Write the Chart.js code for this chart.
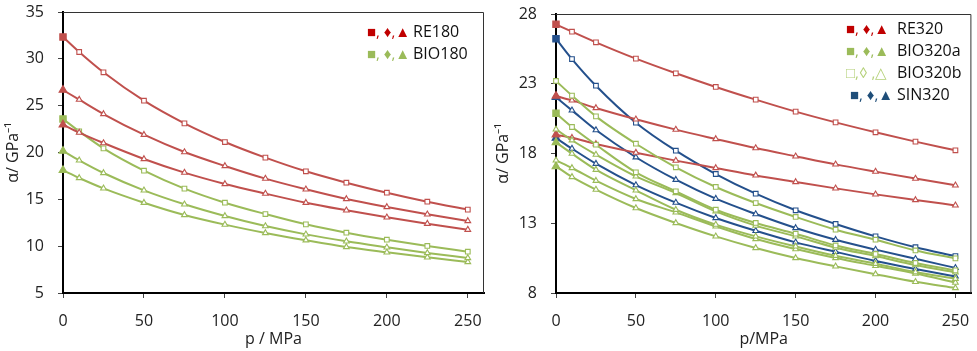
<!DOCTYPE html>
<html>
<head>
<meta charset="utf-8">
<script src="https://cdn.jsdelivr.net/npm/chart.js@4"></script>
<style>
  body { margin: 0; background: #fff; font-family: 'Open Sans', sans-serif; }
  #wrap { position: relative; width: 977px; height: 351px; }
  .pane { position: absolute; top: 0; height: 351px; }
  .leg { position: absolute; font-size: 16px; color: #111; line-height: 22px; }
  .row { position: relative; height: 22px; white-space: nowrap; }
  .sym { position: absolute; left: 0; font-size: 15px; letter-spacing: 0px; }
  .txt { position: absolute; }
</style>
</head>
<body>
<div id="wrap">
  <div class="pane" style="left:0;width:490px"><canvas id="chart-left"></canvas></div>
  <div class="pane" style="left:490px;width:487px"><canvas id="chart-right"></canvas></div>

  <div class="leg" style="left:367px;top:20px">
    <div class="row"><span class="sym" style="color:#c00000">■, ♦,▲</span><span class="txt" style="left:46px">RE180</span></div>
    <div class="row"><span class="sym" style="color:#9bbb59">■, ♦,▲</span><span class="txt" style="left:46px">BIO180</span></div>
  </div>

  <div class="leg" style="left:846px;top:17px">
    <div class="row"><span class="sym" style="color:#c00000">■, ♦,▲</span><span class="txt" style="left:51px">RE320</span></div>
    <div class="row"><span class="sym" style="color:#9bbb59">■, ♦,▲</span><span class="txt" style="left:51px">BIO320a</span></div>
    <div class="row"><span class="sym" style="color:#b5d17a">□,◊ ,△</span><span class="txt" style="left:51px">BIO320b</span></div>
    <div class="row"><span class="sym" style="color:#1f4e79;left:4px">■, ♦,▲</span><span class="txt" style="left:51px">SIN320</span></div>
  </div>
</div>

<script>
// ciśnienie / MPa
const pressure = [0, 10, 25, 50, 75, 100, 125, 150, 175, 200, 225, 250];
const xTicks = [0, 50, 100, 150, 200, 250];
const leftYTicks = [5, 10, 15, 20, 25, 30, 35];
const rightYTicks = [8, 13, 18, 23, 28];

// lewy wykres (180)
const re180Sq = [32.33, 30.73, 28.56, 25.53, 23.11, 21.12, 19.45, 17.99, 16.78, 15.71, 14.75, 13.90];
const re180Up = [26.67, 25.64, 24.11, 21.90, 20.05, 18.56, 17.21, 16.07, 15.04, 14.18, 13.40, 12.69];
const re180Lo = [22.97, 22.12, 21.01, 19.31, 17.85, 16.64, 15.61, 14.64, 13.83, 13.08, 12.40, 11.76];
const bio180Sq = [23.58, 22.26, 20.44, 18.06, 16.14, 14.64, 13.43, 12.33, 11.44, 10.69, 10.02, 9.41];
const bio180Up = [20.16, 19.16, 17.81, 15.96, 14.47, 13.22, 12.15, 11.26, 10.52, 9.88, 9.27, 8.74];
const bio180Lo = [18.10, 17.28, 16.17, 14.64, 13.33, 12.30, 11.41, 10.63, 9.91, 9.34, 8.81, 8.31];

// prawy wykres (320)
const re320Sq = [27.26, 26.73, 25.97, 24.80, 23.75, 22.77, 21.86, 21.00, 20.23, 19.52, 18.85, 18.23];
const re320Up = [22.12, 21.81, 21.26, 20.45, 19.71, 19.04, 18.39, 17.80, 17.22, 16.70, 16.20, 15.72];
const re320Lo = [19.35, 19.13, 18.68, 18.06, 17.49, 16.96, 16.43, 15.96, 15.50, 15.07, 14.67, 14.28];
const sin320Sq = [26.23, 24.77, 22.86, 20.21, 18.20, 16.53, 15.12, 13.93, 12.95, 12.06, 11.28, 10.65];
const sin320Up = [22.03, 21.09, 19.68, 17.73, 16.12, 14.76, 13.66, 12.66, 11.82, 11.11, 10.45, 9.80];
const sin320Lo = [19.11, 18.35, 17.27, 15.74, 14.48, 13.38, 12.46, 11.63, 10.95, 10.30, 9.72, 9.19];
const bio320bSq = [23.20, 22.15, 20.66, 18.70, 17.01, 15.60, 14.45, 13.45, 12.54, 11.82, 11.05, 10.48];
const bio320aSq = [20.88, 19.90, 18.63, 16.65, 15.29, 13.97, 13.02, 12.25, 11.41, 10.80, 10.15, 9.62];
const bio320bUp = [19.73, 18.95, 17.92, 16.36, 15.17, 13.85, 12.83, 12.06, 11.25, 10.65, 10.00, 9.48];
const bio320aUp = [18.80, 17.99, 16.84, 15.36, 13.97, 12.90, 12.06, 11.34, 10.67, 10.10, 9.50, 9.02];
const bio320bLo = [17.51, 16.96, 16.05, 14.74, 13.78, 12.78, 11.87, 11.15, 10.51, 9.95, 9.40, 8.75];
const bio320aLo = [17.08, 16.32, 15.41, 14.09, 13.02, 12.06, 11.23, 10.51, 9.91, 9.35, 8.80, 8.36];

const RED = '#c0504d', GREEN = '#9bbb59', BLUE = '#24508c';
const FONT = { family: "'Open Sans', sans-serif", size: 16 };

// seria: pierwszy punkt (0.1 MPa) wypełniony, reszta pusta
function series(values, color, style, firstFilled) {
  return {
    data: values.map((v, i) => ({ x: pressure[i], y: v })),
    borderColor: color,
    borderWidth: 2,
    cubicInterpolationMode: 'monotone',
    pointStyle: style,
    pointRadius: values.map((_, i) => (i === 0 && firstFilled ? 4.5 : 3.3)),
    pointBorderColor: color,
    pointBorderWidth: 1.1,
    pointBackgroundColor: values.map((_, i) => (i === 0 && firstFilled ? color : '#fff')),
    clip: false
  };
}

// ramka obszaru wykresu (góra i prawo cieńsze)
const frame = {
  id: 'frame',
  afterDraw(chart) {
    const a = chart.chartArea, c = chart.ctx;
    c.save();
    c.strokeStyle = '#333';
    c.lineWidth = 1;
    c.beginPath();
    c.moveTo(a.left, a.top + 0.5);
    c.lineTo(a.right - 0.5, a.top + 0.5);
    c.lineTo(a.right - 0.5, a.bottom);
    c.stroke();
    c.restore();
  }
};

function createChart(id, datasets, yTicks, yTitle, xTitle, yWidth, top, right) {
  return new Chart(document.getElementById(id), {
    type: 'line',
    data: { datasets },
    plugins: [frame],
    options: {
      responsive: true,
      maintainAspectRatio: false,
      animation: false,
      layout: { padding: { top: top, right: right, left: 0, bottom: 0 } },
      plugins: { legend: { display: false }, tooltip: { enabled: false } },
      scales: {
        x: {
          type: 'linear',
          min: 0,
          max: 260,
          afterBuildTicks: s => { s.ticks = xTicks.map(v => ({ value: v })); },
          afterFit: s => { s.height = 58; s.paddingLeft = 0; s.paddingRight = 0; },
          ticks: { font: FONT, color: '#222', padding: 14, maxRotation: 0 },
          grid: { drawOnChartArea: false, tickLength: 5, color: '#444' },
          border: { color: '#000', width: 2 },
          title: { display: true, text: xTitle, font: FONT, color: '#222', padding: { top: 0, bottom: 2 } }
        },
        y: {
          min: yTicks[0],
          max: yTicks[yTicks.length - 1],
          afterBuildTicks: s => { s.ticks = yTicks.map(v => ({ value: v })); },
          afterFit: s => { s.width = yWidth; s.paddingTop = 0; s.paddingBottom = 0; },
          ticks: { font: FONT, color: '#222', padding: 14 },
          grid: { drawOnChartArea: false, tickLength: 5, color: '#444' },
          border: { color: '#000', width: 2 },
          title: { display: true, text: yTitle, font: FONT, color: '#222', padding: { top: 4, bottom: 0 } }
        }
      }
    }
  });
}

document.addEventListener('DOMContentLoaded', () => {
  createChart('chart-left', [
    series(re180Sq, RED, 'rect', true),
    series(re180Up, RED, 'triangle', true),
    series(re180Lo, RED, 'triangle', true),
    series(bio180Sq, GREEN, 'rect', true),
    series(bio180Up, GREEN, 'triangle', true),
    series(bio180Lo, GREEN, 'triangle', true)
  ], leftYTicks, 'α/ GPa⁻¹', 'p / MPa', 63, 12, 6);

  createChart('chart-right', [
    series(bio320bSq, GREEN, 'rect', false),
    series(bio320aSq, GREEN, 'rect', true),
    series(bio320bUp, GREEN, 'triangle', false),
    series(bio320aUp, GREEN, 'triangle', true),
    series(bio320bLo, GREEN, 'triangle', false),
    series(bio320aLo, GREEN, 'triangle', true),
    series(re320Sq, RED, 'rect', true),
    series(re320Up, RED, 'triangle', true),
    series(re320Lo, RED, 'triangle', true),
    series(sin320Sq, BLUE, 'rect', true),
    series(sin320Up, BLUE, 'triangle', true),
    series(sin320Lo, BLUE, 'triangle', true)
  ], rightYTicks, 'α/ GPa⁻¹', 'p/MPa', 66, 14, 3);
});
</script>
</body>
</html>
